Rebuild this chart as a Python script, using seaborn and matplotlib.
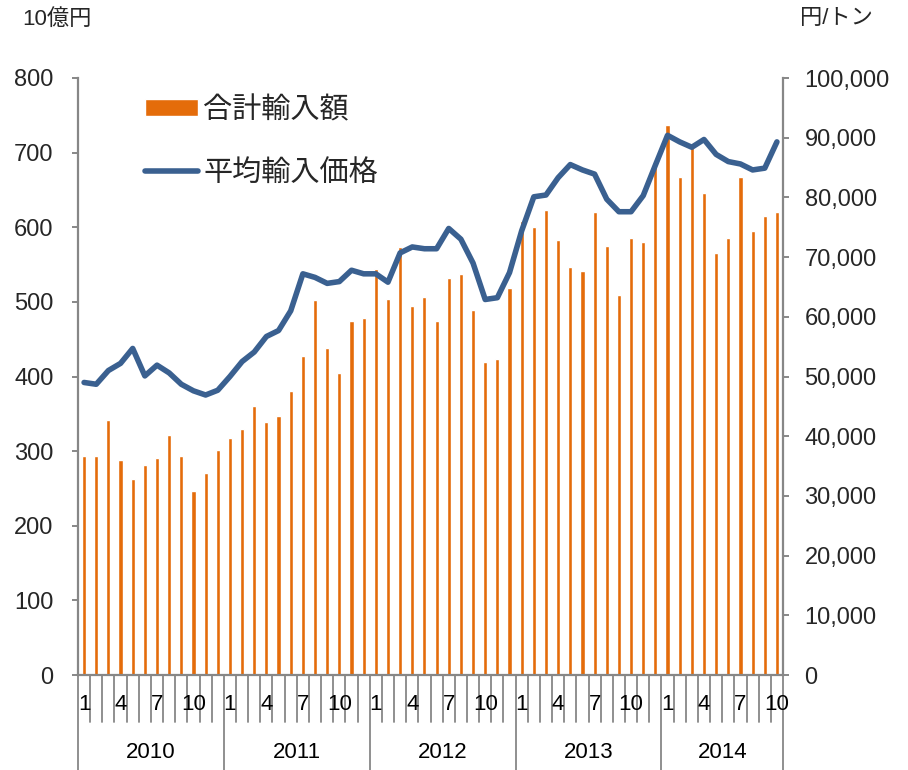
import numpy as np
import pandas as pd
import matplotlib
matplotlib.use("Agg")
import matplotlib.pyplot as plt
import matplotlib.transforms as mtransforms
from matplotlib.lines import Line2D
import seaborn as sns

# ---------------- data ----------------
years = [2010, 2011, 2012, 2013, 2014]
months_per_year = [12, 12, 12, 12, 10]
month_tick_labels = ["1", "4", "7", "10"]

amount = [  # 合計輸入額 (10億円)
    293, 293, 342, 288, 263, 281, 291, 321, 293, 247, 271, 301,
    317, 329, 360, 339, 347, 380, 428, 502, 438, 405, 474, 479,
    544, 504, 573, 494, 507, 474, 532, 537, 489, 420, 423, 519,
    608, 600, 623, 583, 547, 542, 620, 575, 509, 586, 580, 682,
    737, 668, 707, 646, 565, 586, 668, 595, 615, 620,
]
price = [  # 平均輸入価格 (円/トン)
    49000, 48700, 51000, 52200, 54700, 50100, 51900, 50600, 48700, 47600, 46900, 47700,
    50000, 52500, 54100, 56700, 57700, 61000, 67200, 66600, 65600, 65900, 67800, 67200,
    67200, 65800, 70700, 71700, 71400, 71400, 74800, 73000, 69000, 62900, 63200, 67400,
    74400, 80100, 80400, 83300, 85500, 84600, 83900, 79700, 77600, 77600, 80300, 85400,
    90400, 89300, 88400, 89700, 87200, 86000, 85600, 84600, 84900, 89300,
]
bar_label = "合計輸入額"
line_label = "平均輸入価格"
left_unit = "10億円"
right_unit = "円/トン"

labels = []
for y, n in zip(years, months_per_year):
    for m in range(1, n + 1):
        labels.append(f"{y}-{m:02d}")
df = pd.DataFrame({"label": labels, "pos": np.arange(len(labels)),
                   "amount": amount, "price": price})

# ---------------- style ----------------
sns.set_style("white")
plt.rcParams["font.family"] = ["Liberation Sans", "Noto Sans CJK JP"]
ORANGE = "#E46C0A"
BLUE = "#3A6090"
GRAY = "#878787"

W, H = 908, 770
fig = plt.figure(figsize=(W / 100, H / 100), dpi=100)
ax = fig.add_axes([78 / W, 1 - 675 / H, (783 - 78) / W, (675 - 78) / H])

sns.barplot(data=df, x="label", y="amount", color=ORANGE, saturation=1,
            width=0.34, ax=ax)
ax2 = ax.twinx()
sns.lineplot(data=df, x="pos", y="price", color=BLUE, linewidth=4.0,
             ax=ax2, solid_capstyle="round", solid_joinstyle="round")

n = len(df)
ax.set_xlim(-0.5, n - 0.5)
ax.set_ylim(0, 800)
ax.set_yticks(np.arange(0, 801, 100))
ax2.set_ylim(0, 100000)
ax2.set_yticks(np.arange(0, 100001, 10000))
ax2.set_yticklabels([f"{v:,}" for v in range(0, 100001, 10000)])
ax.set_xlabel("")
ax.set_ylabel("")
ax2.set_xlabel("")
ax2.set_ylabel("")
ax.set_xticks([])
ax2.set_xticks([])

for a in (ax, ax2):
    a.spines["top"].set_visible(False)
    for s in a.spines.values():
        s.set_color(GRAY)
        s.set_linewidth(1.6)
ax.spines["right"].set_visible(False)
ax2.spines["left"].set_visible(False)
ax2.spines["bottom"].set_visible(False)

ax.tick_params(axis="y", direction="out", length=4.5, width=1.4, color=GRAY,
               labelsize=17, pad=13, left=True)
ax2.tick_params(axis="y", direction="out", length=4.5, width=1.4, color=GRAY,
                labelsize=17, pad=11, right=True)

# ---------------- multi-level category axis ----------------
trans = mtransforms.blended_transform_factory(ax.transData, ax.transAxes)
ph = 675 - 78
month_y = -(705 - 675) / ph
year_y = -(753 - 675) / ph
tick_bottom = -(722 - 675) / ph
sep_bottom = -(772 - 675) / ph

start = 0
year_bounds = [0]
for y, nm in zip(years, months_per_year):
    for k in range(nm):
        mnum = k + 1
        if str(mnum) in month_tick_labels:
            ax.text(start + k, month_y, str(mnum), transform=trans,
                    ha="center", va="center", fontsize=16, color="black")
    ax.text(start + (nm - 1) / 2, year_y, str(y), transform=trans,
            ha="center", va="center", fontsize=16, color="black")
    start += nm
    year_bounds.append(start)

for b in range(n + 1):
    xb = b - 0.5
    bottom = sep_bottom if b in year_bounds else tick_bottom
    ax.add_line(Line2D([xb, xb], [0, bottom], transform=trans, color=GRAY,
                       linewidth=1.3, clip_on=False))

# ---------------- units ----------------
fig.text(22 / W, 1 - 19 / H, left_unit, fontsize=16, ha="left", va="center")
fig.text(800 / W, 1 - 19 / H, right_unit, fontsize=16, ha="left", va="center")

# ---------------- legend ----------------
handles = [ax.patches[0], ax2.lines[0]]
leg = ax2.legend(handles, [bar_label, line_label], loc="upper left",
                 bbox_to_anchor=(145 / W, 1 - 96 / H),
                 bbox_transform=fig.transFigure, frameon=False, fontsize=21,
                 handlelength=1.8, handleheight=0.55, handletextpad=0.2,
                 labelspacing=1.2, borderpad=0, borderaxespad=0)

fig.savefig("out.png", dpi=100)
